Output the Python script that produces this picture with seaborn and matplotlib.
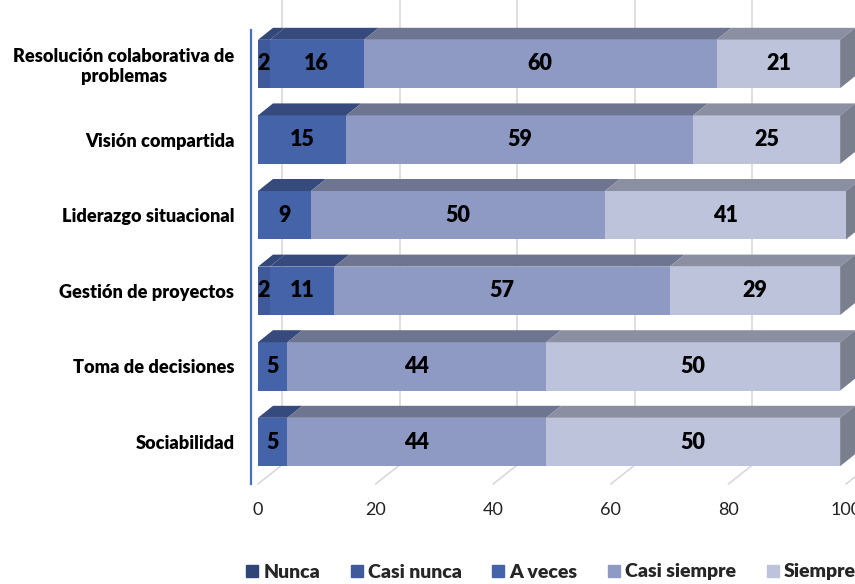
import matplotlib
matplotlib.use("Agg")
import matplotlib.pyplot as plt
import seaborn as sns
import pandas as pd
from matplotlib.patches import Polygon
from matplotlib.lines import Line2D

# data
categories = ["Resolución colaborativa de\nproblemas", "Visión compartida",
              "Liderazgo situacional", "Gestión de proyectos",
              "Toma de decisiones", "Sociabilidad"]
series = ["Nunca", "Casi nunca", "A veces", "Casi siempre", "Siempre"]
nunca = [0, 0, 0, 0, 0, 0]
casi_nunca = [2, 0, 0, 2, 0, 0]
a_veces = [16, 15, 9, 11, 5, 5]
casi_siempre = [60, 59, 50, 57, 44, 44]
siempre = [21, 25, 41, 29, 50, 50]
ticks = [0, 20, 40, 60, 80, 100]

front_colors = ["#2f4677", "#3e5a9a", "#4563a9", "#8f9ac4", "#bcc3da"]
top_colors = ["#27395f", "#33477a", "#364a7e", "#6e7591", "#8a90a2"]
side_color = "#7a7f8e"
grid_color = "#d9d9d9"

df = pd.DataFrame({"Categoria": categories, "Nunca": nunca, "Casi nunca": casi_nunca,
                   "A veces": a_veces, "Casi siempre": casi_siempre, "Siempre": siempre})
cum = df[series].cumsum(axis=1)

sns.set_theme(style="white")
plt.rcParams["font.family"] = ["Lato", "DejaVu Sans"]

fig = plt.figure(figsize=(8.55, 5.84), dpi=100)
ax = fig.add_axes([258 / 855, 100 / 584, 588 / 855, 454 / 584])

bar_h = 0.64
# stacked bars: draw cumulative totals from the largest down
for j in reversed(range(len(series))):
    sns.barplot(x=cum[series[j]], y=df["Categoria"], orient="h", color=front_colors[j],
                width=bar_h, saturation=1, linewidth=0, ax=ax, zorder=3)

y_top = -34 / 75.6
y_bot = 5 + 42 / 75.6
ax.set_xlim(0, 100)
ax.set_ylim(y_bot, y_top)

# pixel -> data conversion for the fake 3d depth
px_x = 588 / 100
px_y = 454 / (y_bot - y_top)
dx, dy = 15 / px_x, 12 / px_y
gx, gy = 24 / px_x, 19 / px_y
fig_top = y_top - 30 / px_y

# back wall gridlines and floor lines
for t in ticks:
    ax.plot([t, t + gx], [y_bot, y_bot - gy], color=grid_color, lw=1.2, zorder=0, clip_on=False)
    ax.plot([t + gx, t + gx], [y_bot - gy, fig_top], color=grid_color, lw=1.2, zorder=0, clip_on=False)

# top faces, side faces and labels
for i in range(len(categories)):
    top = i - bar_h / 2
    bottom = i + bar_h / 2
    left = 0
    for j, s in enumerate(series):
        v = df[s][i]
        right = left + v
        if v > 0:
            ax.add_patch(Polygon([(left, top), (right, top), (right + dx, top - dy), (left + dx, top - dy)],
                                 closed=True, facecolor=top_colors[j], edgecolor="none",
                                 zorder=4, clip_on=False))
            ax.text((left + right) / 2, i, str(v), ha="center", va="center",
                    fontsize=15.5, fontweight="heavy", color="black", zorder=6)
        left = right
    ax.add_patch(Polygon([(left, top), (left + dx, top - dy), (left + dx, bottom - dy), (left, bottom)],
                         closed=True, facecolor=side_color, edgecolor="none", zorder=4, clip_on=False))

for sp in ["top", "right", "bottom"]:
    ax.spines[sp].set_visible(False)
ax.spines["left"].set_color("#4a70bd")
ax.spines["left"].set_linewidth(1.6)
ax.spines["left"].set_position(("outward", 5))

ax.set_xticks(ticks)
ax.set_xticklabels([str(t) for t in ticks], fontsize=13, color="#222222")
ax.tick_params(axis="x", length=0, pad=13)
ax.tick_params(axis="y", length=0, pad=12, labelsize=13.1)
for lab in ax.get_yticklabels():
    lab.set_fontweight("heavy")
    lab.set_multialignment("center")
    lab.set_color("black")
ax.set_xlabel("")
ax.set_ylabel("")
ax.grid(False)

handles = [Line2D([], [], marker="s", ls="", color=c, markersize=8) for c in front_colors]
fig.legend(handles, series, loc="center", bbox_to_anchor=(551 / 855, 12 / 584), ncol=5,
           frameon=False, prop=dict(weight="heavy", size=14), handletextpad=0.25,
           columnspacing=1.6, handlelength=0.6)

fig.savefig("out.png", dpi=100)
